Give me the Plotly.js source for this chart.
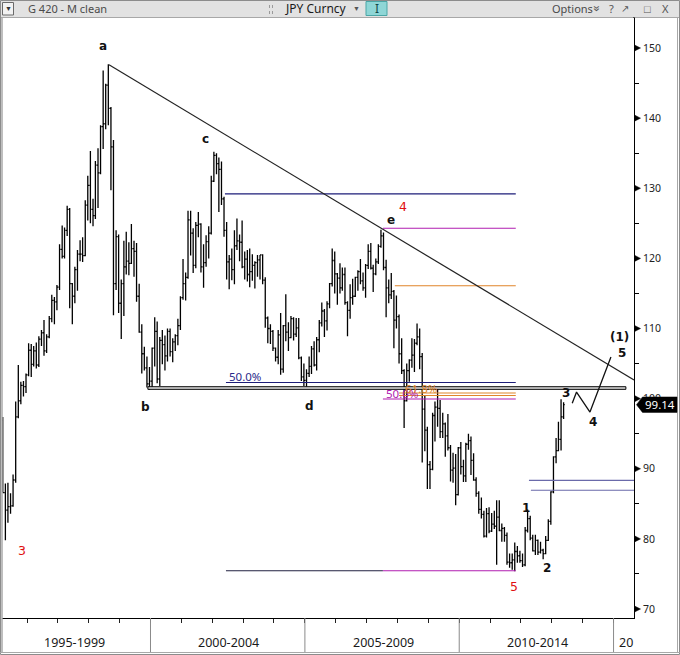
<!DOCTYPE html>
<html><head><meta charset="utf-8">
<script src="https://cdn.plot.ly/plotly-3.0.1.min.js"></script>
<style>html,body{margin:0;padding:0;background:#fff;}#chart{width:680px;height:655px;}</style>
</head><body><div id="chart"></div>
<script>
// ---------- DATA: JPY Curncy monthly bars, Mar 1995 .. May 2013 ----------
const firstYear = 1995, firstMonth = 3;
const opens = [
 96.9,86.6,84.1,84.6,84.7,88.4,97.4,99.7,101.9,101.7,
 103.4,106.9,104.9,106.8,104.8,108.5,109.4,106.8,108.8,111.4,114.0,113.8,
 115.9,121.3,120.3,124.0,127.0,116.4,114.6,118.4,120.6,120.6,120.4,127.6,
 130.4,127.0,126.1,133.3,132.2,138.8,139.2,144.7,141.4,135.9,116.4,123.1,
 113.6,116.4,118.8,119.6,119.3,121.4,121.0,114.6,109.5,106.4,104.4,102.1,
 102.5,107.2,109.6,102.8,108.3,107.7,106.1,109.6,106.7,108.1,109.0,110.4,
 114.4,116.4,117.3,125.5,123.6,119.0,124.7,124.9,118.8,119.4,122.4,123.6,
 131.0,134.7,133.5,132.7,128.5,124.0,119.5,119.9,118.4,121.8,122.5,122.3,
 118.8,119.9,117.7,118.1,119.0,119.4,119.8,120.5,116.9,111.5,110.0,109.6,
 107.2,105.9,109.1,104.2,110.4,109.5,108.7,111.4,109.2,110.1,105.8,103.1,
 102.6,103.6,104.6,107.1,104.8,108.4,110.8,112.5,111.1,113.5,116.4,119.7,
 117.8,117.2,115.8,117.7,113.7,112.6,114.4,114.6,117.3,118.1,116.8,115.8,
 119.0,121.0,118.6,117.8,119.5,121.7,123.2,118.7,115.8,114.8,115.3,111.2,
 111.7,106.4,104.0,99.7,104.0,105.5,106.2,107.9,108.8,106.0,98.5,95.5,
 90.6,89.9,97.6,98.8,98.6,95.3,96.4,94.7,93.0,89.8,90.1,86.3,
 93.0,90.3,89.0,93.5,94.0,91.2,88.4,86.5,84.2,83.5,80.4,83.6,
 81.1,82.1,81.8,83.1,81.2,81.5,80.5,76.7,76.6,77.0,78.2,77.6,
 76.9,76.3,81.2,82.9,80.1,78.3,79.8,78.1,78.4,77.9,79.8,82.5,
 86.7,91.7,92.6,94.2,97.4
];
const highs = [
 97.4,87.9,88.0,86.5,89.2,99.6,104.8,102.4,102.5,103.6,
 107.9,107.8,107.5,108.0,108.9,109.8,111.2,109.2,111.8,114.8,114.5,116.2,
 122.0,124.7,124.4,127.5,127.2,116.5,118.8,121.2,122.6,123.0,128.3,131.8,
 135.3,128.5,133.9,135.7,139.0,146.8,144.9,147.7,141.6,136.9,124.0,123.4,
 117.0,122.5,123.8,122.3,124.9,122.5,122.2,116.4,110.6,107.4,106.0,104.5,
 107.3,111.6,111.0,108.8,109.8,109.0,110.0,110.0,108.6,109.2,111.4,114.6,
 119.9,118.0,126.8,126.8,124.3,125.2,126.6,125.0,122.0,123.3,124.6,131.8,
 135.2,135.0,134.4,133.8,128.8,125.2,120.5,121.4,124.0,125.7,123.4,125.4,
 121.0,121.2,121.4,120.6,119.6,120.5,120.5,120.6,117.3,111.7,110.6,109.8,
 107.3,109.8,112.2,110.5,114.9,110.9,111.8,111.6,111.5,111.5,106.0,105.0,
 104.2,106.0,107.5,108.2,108.8,111.2,113.7,112.8,113.9,116.5,121.4,121.0,
 117.9,119.3,118.7,118.7,113.9,116.3,117.1,117.4,118.3,119.9,118.0,119.2,
 122.0,122.2,119.1,120.0,122.0,124.1,123.7,119.8,117.0,117.9,115.5,114.7,
 112.0,108.6,104.2,105.0,105.6,108.6,108.5,110.7,110.0,106.5,100.5,96.0,
 91.1,98.0,99.6,101.4,99.8,98.0,96.6,97.8,93.4,92.3,92.1,93.1,
 93.8,91.3,93.7,95.0,94.6,92.2,88.8,86.8,85.9,84.0,84.4,84.5,
 83.7,84.0,85.5,85.5,82.2,81.7,80.9,77.9,77.9,79.5,79.0,78.3,
 77.9,81.7,84.2,83.3,80.6,80.6,79.9,79.6,78.6,80.4,82.8,86.8,
 91.8,94.4,96.7,99.9,99.5
];
const lows = [
 86.6,79.8,82.3,83.6,84.6,88.0,97.2,99.2,100.3,100.8,
 103.2,103.1,104.6,104.3,104.5,107.5,106.1,106.5,108.6,110.9,110.6,112.6,
 115.5,120.0,120.0,123.2,112.9,110.6,113.6,115.4,119.6,119.5,120.3,125.4,
 125.0,124.6,125.6,127.2,132.0,135.6,138.4,139.0,129.7,111.9,115.5,112.2,
 108.5,111.8,117.7,117.6,119.2,117.4,113.8,109.4,103.6,104.0,101.6,101.3,
 101.4,104.6,102.2,101.8,104.9,104.0,105.3,106.0,105.2,106.8,107.6,109.8,
 114.1,114.0,117.1,120.4,117.9,118.6,123.0,118.0,115.8,118.8,120.0,123.4,
 130.9,132.0,126.6,127.6,123.1,117.0,115.6,116.9,116.3,121.2,119.6,118.6,
 117.0,116.7,115.9,116.8,115.7,117.4,117.0,116.3,110.1,107.9,107.8,106.8,
 105.3,104.9,103.4,103.7,108.2,106.8,108.6,108.3,108.8,105.6,102.5,101.8,
 101.7,103.1,103.5,104.6,104.0,106.6,110.3,108.8,109.7,112.9,116.0,115.0,
 113.4,115.0,115.4,113.4,108.9,111.4,113.4,114.5,115.4,116.3,115.4,114.4,
 118.5,118.4,115.2,117.6,119.2,121.5,118.3,111.6,113.6,114.2,107.2,110.0,
 105.0,103.5,95.8,99.6,102.4,104.4,103.8,107.6,104.2,90.9,92.5,87.1,
 87.1,89.8,93.9,96.0,94.4,94.4,91.7,92.6,88.2,88.0,84.8,86.2,
 89.2,88.1,88.1,92.7,89.1,88.3,86.0,83.6,82.9,80.2,80.2,80.8,
 81.0,81.4,76.3,81.1,79.6,79.6,76.3,75.9,75.6,75.4,76.6,76.6,
 76.0,76.1,80.9,79.8,78.2,77.7,77.7,77.9,77.1,77.8,79.7,82.0,
 86.5,90.8,92.5,92.6,97.1
];
const closes = [
 86.6,84.1,84.6,84.7,88.4,97.4,99.7,101.9,101.7,103.4,
 106.9,104.9,106.8,104.8,108.5,109.4,106.8,108.8,111.4,114.0,113.8,115.9,
 121.3,120.3,124.0,127.0,116.4,114.6,118.4,120.6,120.6,120.4,127.6,130.4,
 127.0,126.1,133.3,132.2,138.8,139.2,144.7,141.4,135.9,116.4,123.1,113.6,
 116.4,118.8,119.6,119.3,121.4,121.0,114.6,109.5,106.4,104.4,102.1,102.5,
 107.2,109.6,102.8,108.3,107.7,106.1,109.6,106.7,108.1,109.0,110.4,114.4,
 116.4,117.3,125.5,123.6,119.0,124.7,124.9,118.8,119.4,122.4,123.6,131.0,
 134.7,133.5,132.7,128.5,124.0,119.5,119.9,118.4,121.8,122.5,122.3,118.8,
 119.9,117.7,118.1,119.0,119.4,119.8,120.5,116.9,111.5,110.0,109.6,107.2,
 105.9,109.1,104.2,110.4,109.5,108.7,111.4,109.2,110.1,105.8,103.1,102.6,
 103.6,104.6,107.1,104.8,108.4,110.8,112.5,111.1,113.5,116.4,119.7,117.8,
 117.2,115.8,117.7,113.7,112.6,114.4,114.6,117.3,118.1,116.8,115.8,119.0,
 121.0,118.6,117.8,119.5,121.7,123.2,118.7,115.8,114.8,115.3,111.2,111.7,
 106.4,104.0,99.7,104.0,105.5,106.2,107.9,108.8,106.0,98.5,95.5,90.6,
 89.9,97.6,98.8,98.6,95.3,96.4,94.7,93.0,89.8,90.1,86.3,93.0,
 90.3,89.0,93.5,94.0,91.2,88.4,86.5,84.2,83.5,80.4,83.6,81.1,
 82.1,81.8,83.1,81.2,81.5,80.5,76.7,76.6,77.0,78.2,77.6,76.9,
 76.3,81.2,82.9,80.1,78.3,79.8,78.1,78.4,77.9,79.8,82.5,86.7,
 91.7,92.6,94.2,97.4,99.14
];

// axis ticks / labels
const yTicks = [70, 80, 90, 100, 110, 120, 130, 140, 150];
const yMinorTicks = [75, 85, 95, 105, 115, 125, 135, 145];
const periodLabels = ['1995-1999', '2000-2004', '2005-2009', '2010-2014', '20'];
const periodStarts = ['1995-01-01', '2000-01-01', '2005-01-01', '2010-01-01', '2015-01-01'];

// trendline a -> e
const trendX = ['1998-08-28', '2015-08-31'];
const trendY = [147.6, 102.66];

// horizontal retracement levels
const levelValues = [129.2, 124.3, 116.1, 102.3, 99.95, 100.8, 100.45, 75.45, 75.45, 88.35, 86.93];
const levelFrom = ['2002-05-31', '2007-07-13', '2007-12-01', '2002-06-12', '2007-07-13', '2008-01-20', '2008-01-20', '2002-06-12', '2007-07-13', '2012-04-05', '2012-04-28'];
const levelTo = ['2011-11-01', '2011-11-01', '2011-11-01', '2011-11-01', '2011-11-01', '2011-11-01', '2011-11-01', '2007-07-13', '2011-11-01', '2015-08-31', '2015-08-31'];
const levelColors = ['#1c1c78', '#b01cb0', '#e0852a', '#1c1c78', '#b01cb0', '#e0852a', '#e0852a', '#202040', '#b01cb0', '#6a6aaa', '#6a6aaa'];

// b-d support band
const bandValues = [101.33, 101.70];
const bandFrom = '1999-12-01', bandTo = '2015-05-27';

// projected wave 3-4-5 path
const waveX = ['2013-08-30', '2013-10-20', '2014-03-28', '2014-12-01'];
const waveY = [99.33, 100.94, 98.09, 105.94];

// wave labels
const waveText = ['a', 'b', 'c', 'd', 'e', '4', '3', '5', '1', '2', '3', '4', '(1)', '5'];
const waveTx = ['1998-06-23', '1999-11-04', '2001-10-16', '2005-02-19', '2007-10-12', '2008-03-10', '1995-11-05', '2011-10-14', '2012-02-26', '2012-11-07', '2013-06-13', '2014-05-05', '2015-03-17', '2015-04-14'];
const waveTy = [150.28, 98.76, 137.02, 98.99, 125.47, 127.37, 78.31, 73.18, 84.36, 75.8, 100.76, 96.62, 108.74, 106.55];
const waveColors = ['#111', '#111', '#111', '#111', '#111', '#e01010', '#e01010', '#e01010', '#111', '#111', '#111', '#111', '#111', '#111'];

// fib labels
const fibText = ['50.0%', '50.0%', '61.8%'];
const fibX = ['2002-06-23', '2007-07-24', '2008-03-06'];
const fibY = [103.2, 100.8, 101.4];
const fibColors = ['#2a2a8a', '#b01cb0', '#e0852a'];

// ---------- build ----------
const dates = [];
for (let i = 0; i < opens.length; i++) {
  const mIdx = firstMonth - 1 + i;
  const y = firstYear + Math.floor(mIdx / 12);
  const m = (mIdx % 12) + 1;
  dates.push(y + '-' + String(m).padStart(2, '0') + '-20');
}
const lastPrice = closes[closes.length - 1];

const xp = px => (px - 2) / 632;
const yp = py => (618 - py) / 600;

const traces = [];
traces.push({
  type: 'ohlc', x: dates, open: opens, high: highs, low: lows, close: closes,
  increasing: {line: {color: '#000', width: 1.3}},
  decreasing: {line: {color: '#000', width: 1.3}},
  tickwidth: 0.5, hoverinfo: 'skip', showlegend: false
});
traces.push({
  type: 'scatter', mode: 'lines',
  x: [bandFrom, bandTo, bandTo, bandFrom, bandFrom],
  y: [bandValues[0], bandValues[0], bandValues[1], bandValues[1], bandValues[0]],
  fill: 'toself', fillcolor: '#dcdcdc', line: {color: '#000', width: 1},
  hoverinfo: 'skip', showlegend: false
});
for (let i = 0; i < levelValues.length; i++) {
  traces.push({
    type: 'scatter', mode: 'lines', x: [levelFrom[i], levelTo[i]], y: [levelValues[i], levelValues[i]],
    line: {color: levelColors[i], width: 1.1}, hoverinfo: 'skip', showlegend: false
  });
}
traces.push({type: 'scatter', mode: 'lines', x: trendX, y: trendY, line: {color: '#222', width: 1.2}, hoverinfo: 'skip', showlegend: false});
traces.push({type: 'scatter', mode: 'lines', x: waveX, y: waveY, line: {color: '#111', width: 1.3}, hoverinfo: 'skip', showlegend: false});

const shapes = [];
const annotations = [];
// title bar
shapes.push({type: 'rect', xref: 'paper', yref: 'paper', x0: xp(0), x1: xp(680), y0: yp(17), y1: yp(0), fillcolor: '#e2e2e2', line: {width: 0}});
shapes.push({type: 'line', xref: 'paper', yref: 'paper', x0: xp(0), x1: xp(680), y0: yp(17.5), y1: yp(17.5), line: {color: '#a8a8a8', width: 1}});
shapes.push({type: 'rect', xref: 'paper', yref: 'paper', x0: xp(2.5), x1: xp(13.5), y0: yp(15), y1: yp(2.5), fillcolor: '#f2f2f2', line: {color: '#6a6a6a', width: 1}});
shapes.push({type: 'rect', xref: 'paper', yref: 'paper', x0: xp(366), x1: xp(387), y0: yp(15.5), y1: yp(1.5), fillcolor: '#8ed6d6', line: {color: '#4aa6a6', width: 1}});
[269.5, 272.5].forEach(px => shapes.push({type: 'line', xref: 'paper', yref: 'paper', x0: xp(px), x1: xp(px), y0: yp(14), y1: yp(3), line: {color: '#9a9a9a', width: 1, dash: 'dot'}}));
// window frame
shapes.push({type: 'rect', xref: 'paper', yref: 'paper', x0: xp(0.5), x1: xp(679.5), y0: yp(654.5), y1: yp(0.5), line: {color: '#8c8c8c', width: 1}});
shapes.push({type: 'line', xref: 'paper', yref: 'paper', x0: xp(2), x1: xp(2), y0: yp(653), y1: yp(17), line: {color: '#a8a8a8', width: 1.5}});
shapes.push({type: 'line', xref: 'paper', yref: 'paper', x0: xp(677.5), x1: xp(677.5), y0: yp(653), y1: yp(17), line: {color: '#a8a8a8', width: 1}});
shapes.push({type: 'line', xref: 'paper', yref: 'paper', x0: xp(0), x1: xp(680), y0: yp(652.5), y1: yp(652.5), line: {color: '#a8a8a8', width: 1}});
shapes.push({type: 'line', xref: 'paper', yref: 'paper', x0: 1, x1: 1, y0: 1, y1: yp(17), line: {color: '#000', width: 1}});
// period dividers
for (let i = 1; i < periodStarts.length; i++) {
  shapes.push({type: 'line', xref: 'x', yref: 'paper', x0: periodStarts[i], x1: periodStarts[i], y0: yp(652), y1: 0, line: {color: '#8a8a8a', width: 1}});
}
// y tick triangles
yTicks.forEach(v => {
  shapes.push({type: 'path', xref: 'paper', yref: 'y',
    path: 'M ' + xp(635) + ' ' + (v + 0.4) + ' L ' + xp(640.5) + ' ' + v + ' L ' + xp(635) + ' ' + (v - 0.4) + ' Z',
    fillcolor: '#000', line: {color: '#000', width: 0.5}});
});
// last price tag
const hh = 1.1;
shapes.push({type: 'path', xref: 'paper', yref: 'y',
  path: 'M ' + xp(636.5) + ' ' + lastPrice + ' L ' + xp(642.5) + ' ' + (lastPrice + hh) + ' L ' + xp(677) + ' ' + (lastPrice + hh) +
        ' L ' + xp(677) + ' ' + (lastPrice - hh) + ' L ' + xp(642.5) + ' ' + (lastPrice - hh) + ' Z',
  fillcolor: '#000', line: {color: '#000', width: 0.5}});
annotations.push({xref: 'paper', yref: 'y', x: xp(660), y: lastPrice, text: lastPrice.toFixed(2), showarrow: false,
  font: {family: 'Noto Sans', size: 11.5, color: '#fff'}, xanchor: 'center', yanchor: 'middle'});

// period labels
function addYears(s, yrs) { const d = new Date(s + 'T00:00:00Z'); return new Date(d.getTime() + yrs * 365.25 * 86400000).toISOString().slice(0, 10); }
for (let i = 0; i < periodLabels.length; i++) {
  const last = i === periodLabels.length - 1;
  annotations.push({xref: 'x', yref: 'paper', x: last ? periodStarts[i] : addYears(periodStarts[i], 2.5), y: yp(642),
    text: periodLabels[i], showarrow: false, xanchor: last ? 'left' : 'center', yanchor: 'middle', xshift: last ? 3 : 1,
    font: {family: 'Noto Sans', size: 12.5, color: '#1a1a1a'}});
}
// wave labels
for (let i = 0; i < waveText.length; i++) {
  const red = waveColors[i] !== '#111';
  annotations.push({xref: 'x', yref: 'y', x: waveTx[i], y: waveTy[i], text: waveText[i], showarrow: false,
    xanchor: 'center', yanchor: 'middle', font: {family: 'DejaVu Sans', size: red ? 12.5 : 12, color: waveColors[i], weight: red ? 'normal' : 'bold'}});
}
// fib labels
for (let i = 0; i < fibText.length; i++) {
  annotations.push({xref: 'x', yref: 'y', x: fibX[i], y: fibY[i], text: fibText[i], showarrow: false,
    xanchor: 'left', yanchor: 'middle', font: {family: 'Noto Sans', size: 11.5, color: fibColors[i]}});
}
// title bar texts
const tb = (px, txt, color, size, anchor, extra) => annotations.push(Object.assign({xref: 'paper', yref: 'paper', x: xp(px), y: yp(8.5),
  text: txt, showarrow: false, xanchor: anchor || 'left', yanchor: 'middle', font: {family: 'Noto Sans', size: size || 11, color: color || '#444'}}, extra || {}));
tb(8, '▼', '#333', 7, 'center');
tb(26, 'G 420 - M clean', '#4a4a4a', 11);
tb(283, 'JPY Curncy', '#1a1a1a', 12);
tb(356.5, '▼', '#555', 7, 'center');
tb(376.5, 'I', '#124848', 12, 'center');
tb(550, 'Options', '#4a4a4a', 11);
tb(597, '»', '#555', 12, 'center', {textangle: 90});
tb(611.5, '?', '#555', 11, 'center');
tb(625, '↗', '#555', 10, 'center');
tb(648, '□', '#555', 11, 'center');
tb(665.5, 'X', '#555', 11, 'center');

const yearTicks = [];
for (let y = 1996; y <= 2015; y++) yearTicks.push(y + '-01-01');

const layout = {
  width: 680, height: 655, autosize: false,
  margin: {l: 2, r: 46, t: 18, b: 37, pad: 0},
  paper_bgcolor: '#fff', plot_bgcolor: '#fff',
  font: {family: 'Noto Sans', color: '#222'},
  showlegend: false, hovermode: false, dragmode: false,
  xaxis: {
    type: 'date', range: ['1995-03-11', '2015-08-31'], rangeslider: {visible: false},
    showgrid: false, zeroline: false, showticklabels: false,
    tickmode: 'array', tickvals: yearTicks, ticks: 'outside', ticklen: 4, tickcolor: '#222', tickwidth: 1,
    showline: true, linecolor: '#000', linewidth: 1, fixedrange: true
  },
  yaxis: {
    side: 'right', range: [68.72, 154.28], showgrid: false, zeroline: false,
    tickmode: 'array', tickvals: yTicks, ticktext: yTicks.map(String),
    ticks: 'outside', ticklen: 6, tickcolor: 'rgba(0,0,0,0)',
    minor: {tickmode: 'array', tickvals: yMinorTicks, ticks: 'outside', ticklen: 4, tickcolor: '#000', showgrid: false},
    tickfont: {family: 'Noto Sans', size: 10.5, color: '#222'},
    showline: true, linecolor: '#000', linewidth: 1, fixedrange: true
  },
  shapes: shapes,
  annotations: annotations
};

Plotly.newPlot('chart', traces, layout, {staticPlot: true, displayModeBar: false});
</script>
</body></html>
